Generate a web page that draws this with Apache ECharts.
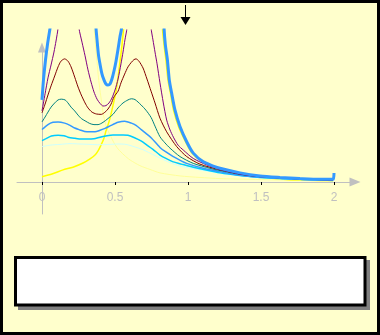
<!DOCTYPE html>
<html>
<head>
<meta charset="utf-8">
<script src="https://cdn.jsdelivr.net/npm/echarts@6/dist/echarts.min.js"></script>
<style>
html,body{margin:0;padding:0;background:#FFFFCC;}
#c{width:380px;height:335px;}
</style>
</head>
<body>
<div id="c"></div>
<script>
// ---- data (x, y) ----
const xTickValues = [0, 0.5, 1, 1.5, 2];

const curveLightYellow = [[0.35,5],[0.356,4.11],[0.366,3.61],[0.377,3.16],[0.387,2.74],[0.397,2.42],[0.408,2.11],[0.418,1.82],[0.432,1.58],[0.449,1.37],[0.466,1.24],[0.493,1.03],[0.521,0.87],[0.562,0.71],[0.603,0.58],[0.671,0.43],[0.740,0.33],[0.808,0.24],[0.945,0.16],[1.082,0.12],[1.219,0.09],[1.425,0.07],[1.767,0.04],[1.993,0.03]];

const curveYellow = [[0,0.14],[0.068,0.21],[0.144,0.32],[0.212,0.39],[0.281,0.5],[0.329,0.61],[0.363,0.71],[0.384,0.82],[0.404,0.97],[0.425,1.16],[0.438,1.34],[0.452,1.5],[0.466,1.68],[0.479,1.89],[0.493,2.13],[0.507,2.39],[0.521,2.76],[0.534,3.16],[0.548,3.61],[0.558,4.0],[0.562,4.11],[0.58,5],[0.82,5],[0.825,4.05],[0.836,3.61],[0.849,3.21],[0.863,2.68],[0.880,2.34],[0.901,1.89],[0.935,1.46],[0.983,1.06],[1.027,0.76],[1.096,0.54],[1.171,0.41],[1.219,0.34],[1.356,0.21],[1.493,0.13],[1.630,0.08],[1.767,0.05],[1.904,0.04],[1.993,0.04]];

const curveLightCyan = [[0,0.93],[0.055,0.97],[0.123,0.99],[0.192,1.01],[0.260,1.0],[0.329,0.99],[0.397,0.98],[0.466,0.99],[0.521,1.0],[0.575,0.99],[0.630,0.93],[0.685,0.86],[0.740,0.76],[0.808,0.63],[0.877,0.51],[0.945,0.42],[1.082,0.32],[1.219,0.23],[1.356,0.16],[1.493,0.12],[1.630,0.08],[1.767,0.06],[1.993,0.04]];

const curveCyan = [[0,1.09],[0.027,1.14],[0.064,1.21],[0.110,1.23],[0.151,1.22],[0.178,1.18],[0.226,1.15],[0.269,1.13],[0.315,1.13],[0.356,1.14],[0.397,1.18],[0.445,1.22],[0.486,1.24],[0.521,1.24],[0.555,1.24],[0.589,1.23],[0.630,1.17],[0.678,1.08],[0.719,0.97],[0.760,0.86],[0.808,0.71],[0.849,0.62],[0.899,0.53],[0.966,0.46],[1.036,0.39],[1.116,0.32],[1.219,0.24],[1.356,0.17],[1.493,0.12],[1.630,0.09],[1.767,0.07],[1.993,0.04]];

const curveBlue = [[0,1.38],[0.041,1.51],[0.075,1.57],[0.110,1.58],[0.155,1.55],[0.192,1.49],[0.224,1.42],[0.260,1.37],[0.292,1.33],[0.329,1.32],[0.363,1.32],[0.397,1.36],[0.432,1.41],[0.473,1.49],[0.521,1.57],[0.566,1.60],[0.612,1.55],[0.644,1.49],[0.680,1.38],[0.712,1.28],[0.749,1.16],[0.808,0.91],[0.849,0.79],[0.899,0.67],[0.991,0.49],[1.105,0.36],[1.219,0.27],[1.356,0.18],[1.493,0.13],[1.630,0.10],[1.767,0.07],[1.993,0.05]];

const curveTeal = [[0,1.58],[0.021,1.71],[0.041,1.84],[0.062,1.97],[0.087,2.08],[0.110,2.16],[0.132,2.18],[0.158,2.16],[0.178,2.08],[0.199,1.97],[0.224,1.87],[0.247,1.76],[0.269,1.67],[0.295,1.61],[0.327,1.54],[0.356,1.51],[0.384,1.51],[0.418,1.57],[0.452,1.67],[0.486,1.78],[0.521,1.95],[0.555,2.08],[0.589,2.16],[0.612,2.19],[0.637,2.17],[0.678,2.03],[0.712,1.89],[0.747,1.70],[0.774,1.47],[0.808,1.19],[0.842,1.03],[0.877,0.89],[0.945,0.67],[1.036,0.49],[1.151,0.36],[1.219,0.30],[1.356,0.2],[1.493,0.14],[1.630,0.11],[1.767,0.08],[1.993,0.05]];

const curveMaroon = [[0,1.82],[0.021,2.05],[0.041,2.29],[0.062,2.53],[0.087,2.79],[0.110,3.03],[0.130,3.18],[0.155,3.24],[0.178,3.18],[0.199,3.03],[0.224,2.76],[0.247,2.5],[0.269,2.29],[0.295,2.08],[0.315,1.95],[0.342,1.84],[0.372,1.79],[0.406,1.78],[0.432,1.84],[0.452,1.92],[0.473,2.05],[0.493,2.24],[0.521,2.39],[0.541,2.61],[0.566,2.84],[0.589,3.03],[0.610,3.14],[0.630,3.22],[0.644,3.24],[0.664,3.18],[0.692,3.0],[0.719,2.71],[0.747,2.39],[0.774,2.08],[0.808,1.68],[0.854,1.32],[0.923,0.93],[0.991,0.67],[1.082,0.47],[1.219,0.32],[1.356,0.21],[1.493,0.14],[1.630,0.11],[1.767,0.08],[1.993,0.05]];

const curvePurple = [[0,1.87],[0.021,2.32],[0.041,2.74],[0.062,3.08],[0.082,3.42],[0.096,3.71],[0.110,4.05],[0.13,5],[0.23,5],[0.253,4.05],[0.274,3.68],[0.295,3.32],[0.315,2.95],[0.336,2.63],[0.356,2.37],[0.377,2.18],[0.397,2.07],[0.418,2.0],[0.438,2.01],[0.459,2.08],[0.479,2.21],[0.5,2.42],[0.521,2.71],[0.541,3.11],[0.555,3.42],[0.568,3.74],[0.582,4.05],[0.6,5],[0.73,5],[0.747,4.05],[0.760,3.74],[0.774,3.42],[0.788,3.11],[0.808,2.61],[0.831,2.08],[0.854,1.63],[0.877,1.37],[0.900,1.18],[0.932,0.97],[0.968,0.84],[1.036,0.62],[1.128,0.45],[1.219,0.33],[1.356,0.21],[1.493,0.14],[1.630,0.11],[1.767,0.08],[1.993,0.05]];

const curveBlueThick = [[0,2.16],[0.010,2.68],[0.024,3.21],[0.038,3.63],[0.051,3.95],[0.058,4.13],[0.07,5],[0.36,5],[0.370,4.05],[0.377,3.74],[0.387,3.34],[0.397,3.11],[0.411,2.84],[0.425,2.68],[0.438,2.58],[0.452,2.55],[0.466,2.58],[0.479,2.71],[0.493,2.92],[0.507,3.18],[0.521,3.5],[0.534,3.82],[0.545,4.05],[0.555,5],[0.83,5],[0.836,4.05],[0.845,3.61],[0.859,3.21],[0.872,2.68],[0.888,2.34],[0.911,1.89],[0.945,1.46],[0.991,1.06],[1.036,0.76],[1.105,0.53],[1.173,0.42],[1.219,0.36],[1.356,0.24],[1.493,0.16],[1.630,0.12],[1.767,0.09],[1.904,0.07],[1.993,0.07],[2.0,0.24]];

const curves = [
  {data: curveLightYellow, color: '#FFFF99', width: 1},
  {data: curveYellow, color: '#FFFF00', width: 1.5},
  {data: curveLightCyan, color: '#CCFFFF', width: 1},
  {data: curveCyan, color: '#00CCFF', width: 1.5},
  {data: curveBlue, color: '#3399FF', width: 1.5},
  {data: curveTeal, color: '#008080', width: 1},
  {data: curveMaroon, color: '#800000', width: 1},
  {data: curvePurple, color: '#800080', width: 1},
  {data: curveBlueThick, color: '#3399FF', width: 3}
];

const chart = echarts.init(document.getElementById('c'), null, {renderer: 'canvas', width: 380, height: 335});

const series = curves.map(c => ({
  type: 'line',
  xAxisIndex: 1,
  yAxisIndex: 1,
  data: c.data,
  showSymbol: false,
  symbol: 'none',
  smooth: 0.25,
  clip: true,
  silent: true,
  lineStyle: {color: c.color, width: c.width}
}));

chart.setOption({
  animation: false,
  backgroundColor: '#FFFFCC',
  grid: [
    {left: 17, right: 25, top: 47.5, bottom: 121, containLabel: false},
    {left: 42, right: 46, top: 30, bottom: 153, containLabel: false}
  ],
  xAxis: [
    {
      gridIndex: 0, type: 'value', min: -0.171, max: 2.144,
      axisLine: {show: true, onZero: true, symbol: ['none', 'triangle'], symbolSize: [9, 11], lineStyle: {color: '#C0C0C0', width: 1}},
      axisTick: {show: false},
      axisLabel: {show: false},
      splitLine: {show: false}
    },
    {
      gridIndex: 1, type: 'value', min: 0, max: 2, interval: 0.5, position: 'bottom',
      axisLine: {show: false, onZero: false},
      axisTick: {show: true, length: 3, lineStyle: {color: '#000000', width: 1}},
      axisLabel: {show: true, margin: 10, color: '#C0C0C0', fontSize: 12, fontFamily: 'Liberation Sans, Arial, sans-serif'},
      splitLine: {show: false}
    }
  ],
  yAxis: [
    {
      gridIndex: 0, type: 'value', min: -0.842, max: 3.54,
      axisLine: {show: true, onZero: true, symbol: ['none', 'triangle'], symbolSize: [8, 10], lineStyle: {color: '#C0C0C0', width: 1}},
      axisTick: {show: false},
      axisLabel: {show: false},
      splitLine: {show: false}
    },
    {gridIndex: 1, type: 'value', min: 0, max: 4, show: false}
  ],
  series: series,
  graphic: [
    {type: 'rect', shape: {x: 1.5, y: 1.5, width: 377, height: 332}, style: {fill: null, stroke: '#000000', lineWidth: 3}, z: 100, silent: true},
    {type: 'line', shape: {x1: 185.5, y1: 5, x2: 185.5, y2: 18}, style: {stroke: '#000000', lineWidth: 1}, z: 100, silent: true},
    {type: 'polygon', shape: {points: [[180.5, 17], [190.5, 17], [185.5, 25]]}, style: {fill: '#000000'}, z: 100, silent: true},
    {type: 'rect', shape: {x: 18, y: 260, width: 352, height: 50}, style: {fill: '#808080'}, z: 100, silent: true},
    {type: 'rect', shape: {x: 15.5, y: 257.5, width: 349.5, height: 47.5}, style: {fill: '#FFFFFF', stroke: '#000000', lineWidth: 3}, z: 101, silent: true}
  ]
});
</script>
</body>
</html>
